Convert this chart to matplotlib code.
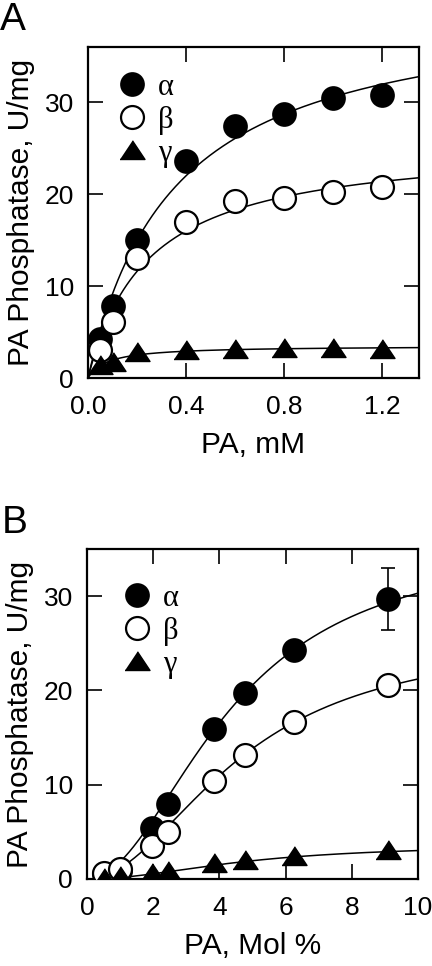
import numpy as np
import matplotlib
matplotlib.use("Agg")
import matplotlib.pyplot as plt
from matplotlib.lines import Line2D

plt.rcParams['font.family'] = ['Liberation Sans', 'DejaVu Sans']

# ---------------- Data: panel A (PA, mM) ----------------
xA = [0.05, 0.1, 0.2, 0.4, 0.6, 0.8, 1.0, 1.2]
alphaA = [4.2, 7.8, 15.0, 23.6, 27.4, 28.7, 30.5, 30.8]
betaA = [3.0, 6.1, 13.0, 17.0, 19.2, 19.6, 20.2, 20.8]
gammaA = [1.4, 1.7, 2.8, 3.0, 3.2, 3.3, 3.3, 3.2]
# Michaelis-Menten fit parameters (Vmax, Km)
fitA = {'alpha': (41.3, 0.351), 'beta': (25.7, 0.243), 'gamma': (3.5, 0.08)}

# ---------------- Data: panel B (PA, Mol %) ----------------
xB = [0.5, 1.0, 1.96, 2.44, 3.85, 4.76, 6.25, 9.09]
alphaB = [0.5, 0.9, 5.4, 8.0, 15.9, 19.7, 24.3, 29.7]
betaB = [0.6, 1.1, 3.5, 5.0, 10.4, 13.2, 16.7, 20.6]
gammaB = [0.1, 0.3, 0.6, 0.8, 1.65, 2.0, 2.4, 3.1]
alphaB_err_last = 3.3
# Hill fit parameters (Vmax, K, n)
fitB = {'alpha': (36.0, 4.33, 2.0), 'beta': (25.8, 4.65, 2.0), 'gamma': (3.7, 4.76, 2.0)}

series_labels = ['α', 'β', 'γ']
tri = [(-1, -0.72), (1, -0.72), (0, 0.78)]

fig = plt.figure(figsize=(4.32, 9.66), dpi=100)
axA = fig.add_axes([88/432, 1-378/966, 331/432, 331/966])
axB = fig.add_axes([87/432, 1-879/966, 331/432, 330/966])

ms_c = 16.5
ms_t = 18
lw_curve = 1.1

def style(ax):
    for s in ax.spines.values():
        s.set_linewidth(1.6)
    ax.tick_params(direction='in', length=10.5, width=1.2, top=True, right=True,
                   labelsize=19, pad=10)
    ax.tick_params(axis='x', pad=12)

def mm(x, v, k):
    return v * x / (k + x)

def hill(x, v, k, n):
    return v * x**n / (k**n + x**n)

# ---- Panel A ----
xs = np.linspace(0, 1.35, 300)
for key in ['alpha', 'beta', 'gamma']:
    axA.plot(xs, mm(xs, *fitA[key]), color='black', lw=lw_curve, zorder=2)
axA.plot(xA, alphaA, 'o', ms=ms_c, mfc='black', mec='black', mew=1.3, ls='none', zorder=3)
axA.plot(xA, betaA, 'o', ms=ms_c, mfc='white', mec='black', mew=1.6, ls='none', zorder=4)
axA.plot(xA, gammaA, marker=tri, ms=ms_t, mfc='black', mec='black', mew=1.0, ls='none', zorder=5)
axA.set_xlim(0, 1.35)
axA.set_ylim(0, 36)
axA.set_xticks([0.0, 0.4, 0.8, 1.2])
axA.set_xticklabels(['0.0', '0.4', '0.8', '1.2'])
axA.set_yticks([0, 10, 20, 30])
style(axA)
axA.set_xlabel('PA, mM', fontsize=21.5, labelpad=9)
axA.set_ylabel('PA Phosphatase, U/mg', fontsize=21.5, labelpad=7)

# ---- Panel B ----
xs = np.linspace(0.45, 10, 300)
for key in ['alpha', 'beta', 'gamma']:
    axB.plot(xs, hill(xs, *fitB[key]), color='black', lw=lw_curve, zorder=2)
axB.errorbar([xB[-1]], [alphaB[-1]], yerr=[alphaB_err_last], fmt='none', ecolor='black',
             elinewidth=1.2, capsize=5, capthick=1.2, zorder=2.5)
axB.plot(xB, alphaB, 'o', ms=ms_c, mfc='black', mec='black', mew=1.3, ls='none', zorder=3)
axB.plot(xB, betaB, 'o', ms=ms_c, mfc='white', mec='black', mew=1.6, ls='none', zorder=4)
axB.plot(xB, gammaB, marker=tri, ms=ms_t, mfc='black', mec='black', mew=1.0, ls='none', zorder=5)
axB.set_xlim(0, 10)
axB.set_ylim(0, 35)
axB.set_xticks([0, 2, 4, 6, 8, 10])
axB.set_yticks([0, 10, 20, 30])
style(axB)
axB.set_xlabel('PA, Mol %', fontsize=21.5, labelpad=9)
axB.set_ylabel('PA Phosphatase, U/mg', fontsize=21.5, labelpad=7)

# legends
handles = [
    Line2D([], [], marker='o', ms=ms_c, mfc='black', mec='black', mew=1.3, ls='none'),
    Line2D([], [], marker='o', ms=ms_c, mfc='white', mec='black', mew=1.6, ls='none'),
    Line2D([], [], marker=tri, ms=ms_t, mfc='black', mec='black', mew=1.0, ls='none'),
]
legprop = {'family': ['Liberation Serif', 'DejaVu Serif'], 'size': 22}
axA.legend(handles, series_labels, loc='upper left', bbox_to_anchor=(0.10, 0.922),
           frameon=False, prop=legprop, handlelength=0.7, handletextpad=0.5,
           labelspacing=0.13, borderaxespad=0, borderpad=0)
axB.legend(handles, series_labels, loc='upper left', bbox_to_anchor=(0.118, 0.894),
           frameon=False, prop=legprop, handlelength=0.7, handletextpad=0.5,
           labelspacing=0.13, borderaxespad=0, borderpad=0)

fig.text(0.0, 1 - 2/966, 'A', fontsize=28, ha='left', va='top')
fig.text(0.005, 1 - 505/966, 'B', fontsize=28, ha='left', va='top')

fig.savefig('out.png', dpi=100)
